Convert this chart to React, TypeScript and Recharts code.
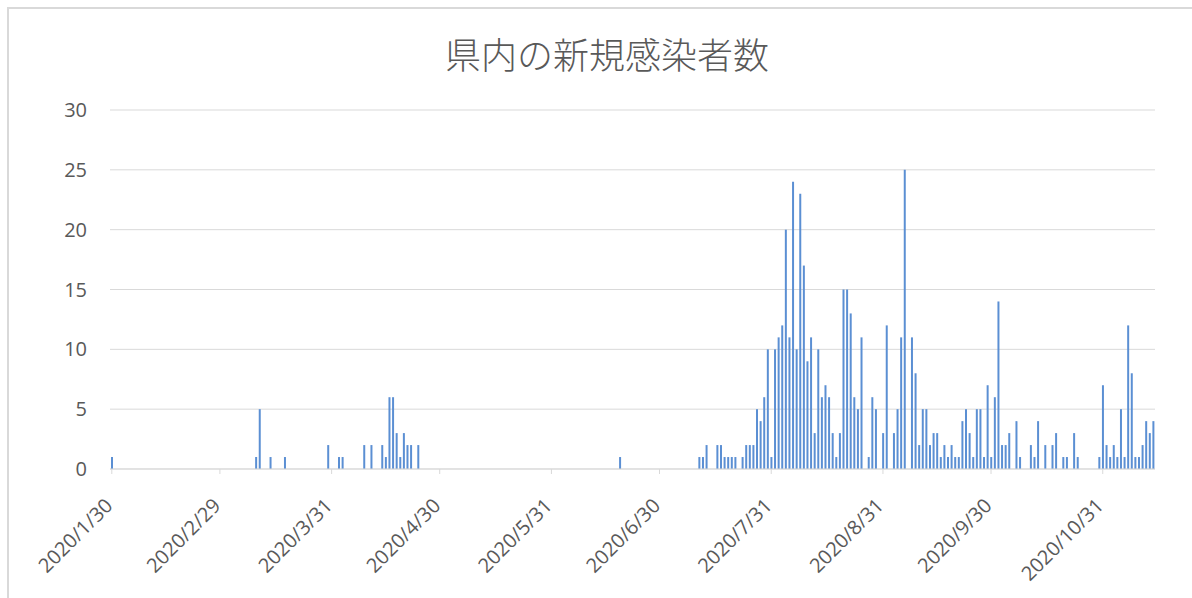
import { BarChart, Bar, XAxis, YAxis, CartesianGrid } from "recharts";

// daily new cases, one array per month (jan starts on 1/30)
const jan = [1, 0];
const feb = [0, 0, 0, 0, 0, 0, 0, 0, 0, 0, 0, 0, 0, 0, 0, 0, 0, 0, 0, 0, 0, 0, 0, 0, 0, 0, 0, 0, 0];
const mar = [0, 0, 0, 0, 0, 0, 0, 0, 0, 1, 5, 0, 0, 1, 0, 0, 0, 1, 0, 0, 0, 0, 0, 0, 0, 0, 0, 0, 0, 2, 0];
const apr = [0, 1, 1, 0, 0, 0, 0, 0, 2, 0, 2, 0, 0, 2, 1, 6, 6, 3, 1, 3, 2, 2, 0, 2, 0, 0, 0, 0, 0, 0];
const may = [0, 0, 0, 0, 0, 0, 0, 0, 0, 0, 0, 0, 0, 0, 0, 0, 0, 0, 0, 0, 0, 0, 0, 0, 0, 0, 0, 0, 0, 0, 0];
const jun = [0, 0, 0, 0, 0, 0, 0, 0, 0, 0, 0, 0, 0, 0, 0, 0, 0, 0, 1, 0, 0, 0, 0, 0, 0, 0, 0, 0, 0, 0];
const jul = [0, 0, 0, 0, 0, 0, 0, 0, 0, 0, 1, 1, 2, 0, 0, 2, 2, 1, 1, 1, 1, 0, 1, 2, 2, 2, 5, 4, 6, 10, 1];
const aug = [10, 11, 12, 20, 11, 24, 10, 23, 17, 9, 11, 3, 10, 6, 7, 6, 3, 1, 3, 15, 15, 13, 6, 5, 11, 0, 1, 6, 5, 0, 3];
const sep = [12, 0, 3, 5, 11, 25, 0, 11, 8, 2, 5, 5, 2, 3, 3, 1, 2, 1, 2, 1, 1, 4, 5, 3, 1, 5, 5, 1, 7, 1];
const oct = [6, 14, 2, 2, 3, 0, 4, 1, 0, 0, 2, 1, 4, 0, 2, 0, 2, 3, 0, 1, 1, 0, 3, 1, 0, 0, 0, 0, 0, 1, 7];
const nov = [2, 1, 2, 1, 5, 1, 12, 8, 1, 1, 2, 4, 3, 4];

const months = [
  { month: 1, first: 30, values: jan },
  { month: 2, first: 1, values: feb },
  { month: 3, first: 1, values: mar },
  { month: 4, first: 1, values: apr },
  { month: 5, first: 1, values: may },
  { month: 6, first: 1, values: jun },
  { month: 7, first: 1, values: jul },
  { month: 8, first: 1, values: aug },
  { month: 9, first: 1, values: sep },
  { month: 10, first: 1, values: oct },
  { month: 11, first: 1, values: nov },
];

const xTicks = [
  "2020/1/30", "2020/2/29", "2020/3/31", "2020/4/30", "2020/5/31",
  "2020/6/30", "2020/7/31", "2020/8/31", "2020/9/30", "2020/10/31",
];
const yTicks = [0, 5, 10, 15, 20, 25, 30];

const chartData = months.flatMap(({ month, first, values }) =>
  values.map((count, i) => ({ date: `2020/${month}/${first + i}`, count }))
);

const FONT = "'Open Sans', sans-serif";
const TEXT = "#595959";
const LINE = "#d9d9d9";

function DateTick({ x, y, payload }: any) {
  return (
    <g transform={`translate(${x + 2},${y + 31})`}>
      <text transform="rotate(-45)" textAnchor="end" fill={TEXT} fontSize={20} fontFamily={FONT}>
        {payload.value}
      </text>
    </g>
  );
}

export default function App() {
  return (
    <div style={{ position: "absolute", left: 0, top: 0, width: 1192, height: 598, overflow: "hidden", background: "#fff" }}>
      <div
        style={{
          position: "absolute",
          left: 7,
          top: 7,
          width: 1300,
          height: 700,
          border: `2px solid ${LINE}`,
        }}
      />
      <div
        style={{
          position: "absolute",
          left: 8,
          top: 28,
          width: 1198,
          textAlign: "center",
          fontFamily: "'Noto Sans CJK JP', sans-serif",
          fontWeight: 300,
          fontSize: 36,
          color: TEXT,
          lineHeight: "50px",
        }}
      >
        県内の新規感染者数
      </div>
      <div style={{ position: "absolute", left: 0, top: 0 }}>
        <BarChart width={1192} height={598} data={chartData} margin={{ top: 110, right: 37, bottom: 9, left: 0 }}>
          <CartesianGrid stroke={LINE} vertical={false} />
          <XAxis
            dataKey="date"
            ticks={xTicks}
            interval={0}
            height={120}
            tickSize={5}
            tickLine={{ stroke: LINE }}
            axisLine={{ stroke: LINE }}
            tick={<DateTick />}
          />
          <YAxis
            domain={[0, 30]}
            ticks={yTicks}
            width={110}
            axisLine={false}
            tickLine={false}
            tickMargin={17}
            tick={{ fill: TEXT, fontSize: 20, fontFamily: FONT }}
          />
          <Bar dataKey="count" fill="#5b8fd3" barSize={2} isAnimationActive={false} />
        </BarChart>
      </div>
    </div>
  );
}
